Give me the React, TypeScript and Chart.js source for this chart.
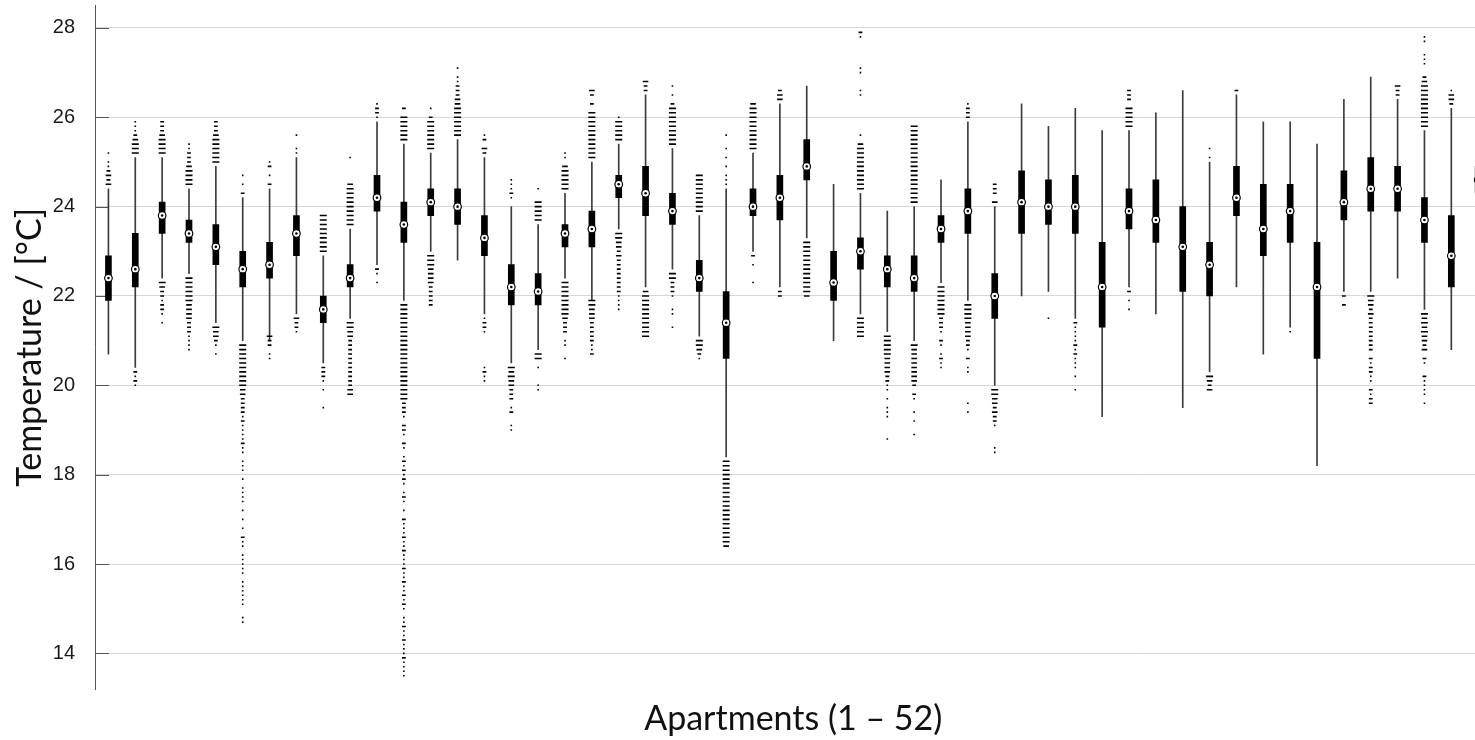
import { useEffect, useRef } from "react";
import { Chart, registerables } from "chart.js";

Chart.register(...registerables);

// Apartment numbers (categories)
const apartments = [
  1, 2, 3, 4, 5, 6, 7, 8, 9, 10, 11, 12, 13, 14, 15, 16, 17, 18, 19, 20, 21, 22, 23, 24, 25, 26,
  27, 28, 29, 30, 31, 32, 33, 34, 35, 36, 37, 38, 39, 40, 41, 42, 43, 44, 45, 46, 47, 48, 49, 50, 51, 52,
];

// Box-plot statistics (°C)
const whiskerLow = [
  20.7, 20.4, 22.4, 22.5, 21.4, 21.0, 21.0, 21.6, 20.5, 21.5, 22.7, 21.9, 23.0, 22.8, 21.6, 20.5, 20.8,
  22.4, 21.9, 23.5, 22.2, 22.6, 21.1, 18.4, 23.0, 22.2, 23.3, 21.0, 21.6, 21.2, 21.0, 22.3, 21.9, 20.0,
  22.0, 22.1, 21.5, 19.3, 22.2, 21.6, 19.5, 20.3, 22.2, 20.7, 21.3, 18.2, 22.1, 22.1, 22.4, 21.7, 20.8, 23.2,
];
const q1 = [
  21.9, 22.2, 23.4, 23.2, 22.7, 22.2, 22.4, 22.9, 21.4, 22.2, 23.9, 23.2, 23.8, 23.6, 22.9, 21.8, 21.8,
  23.1, 23.1, 24.2, 23.8, 23.6, 22.1, 20.6, 23.8, 23.7, 24.6, 21.9, 22.6, 22.2, 22.1, 23.2, 23.4, 21.5,
  23.4, 23.6, 23.4, 21.3, 23.5, 23.2, 22.1, 22.0, 23.8, 22.9, 23.2, 20.6, 23.7, 23.9, 23.9, 23.2, 22.2, 24.3,
];
const median = [
  22.4, 22.6, 23.8, 23.4, 23.1, 22.6, 22.7, 23.4, 21.7, 22.4, 24.2, 23.6, 24.1, 24.0, 23.3, 22.2, 22.1,
  23.4, 23.5, 24.5, 24.3, 23.9, 22.4, 21.4, 24.0, 24.2, 24.9, 22.3, 23.0, 22.6, 22.4, 23.5, 23.9, 22.0,
  24.1, 24.0, 24.0, 22.2, 23.9, 23.7, 23.1, 22.7, 24.2, 23.5, 23.9, 22.2, 24.1, 24.4, 24.4, 23.7, 22.9, 24.6,
];
const q3 = [
  22.9, 23.4, 24.1, 23.7, 23.6, 23.0, 23.2, 23.8, 22.0, 22.7, 24.7, 24.1, 24.4, 24.4, 23.8, 22.7, 22.5,
  23.6, 23.9, 24.7, 24.9, 24.3, 22.8, 22.1, 24.4, 24.7, 25.5, 23.0, 23.3, 22.9, 22.9, 23.8, 24.4, 22.5,
  24.8, 24.6, 24.7, 23.2, 24.4, 24.6, 24.0, 23.2, 24.9, 24.5, 24.5, 23.2, 24.8, 25.1, 24.9, 24.2, 23.8, 24.9,
];
const whiskerHigh = [
  24.4, 25.1, 25.1, 24.4, 24.9, 24.2, 24.4, 25.1, 22.9, 23.5, 25.9, 25.4, 25.2, 25.5, 25.1, 24.0, 23.6,
  24.3, 25.0, 25.4, 26.5, 25.3, 23.8, 24.4, 25.2, 26.3, 26.7, 24.5, 24.3, 23.9, 24.0, 24.6, 25.9, 24.0,
  26.3, 25.8, 26.2, 25.7, 25.7, 26.1, 26.6, 25.0, 26.5, 25.9, 25.9, 25.4, 26.4, 26.9, 26.4, 25.7, 26.2, 26.2,
];

// Outliers per apartment: [temperature, number of coincident readings]
const outliers: [number, number][][] = [
  [[24.5, 3], [24.6, 2], [24.7, 3], [24.8, 2], [24.9, 1], [25.0, 1], [25.2, 1]],
  [[25.2, 4], [25.3, 4], [25.4, 4], [25.5, 3], [25.6, 2], [25.7, 1], [25.8, 1], [25.9, 1], [20.3, 2], [20.2, 1], [20.1, 2], [20.0, 1]],
  [[25.2, 4], [25.3, 4], [25.4, 4], [25.5, 4], [25.6, 3], [25.7, 2], [25.8, 2], [25.9, 2], [22.3, 4], [22.2, 3], [22.1, 2], [22.0, 2], [21.9, 1], [21.8, 2], [21.7, 2], [21.6, 1], [21.4, 1]],
  [[24.5, 4], [24.6, 4], [24.7, 4], [24.8, 4], [24.9, 3], [25.0, 2], [25.1, 2], [25.2, 2], [25.3, 1], [25.4, 1], [22.4, 4], [22.3, 4], [22.2, 4], [22.1, 4], [22.0, 4], [21.9, 4], [21.8, 3], [21.7, 3], [21.6, 3], [21.5, 3], [21.4, 2], [21.3, 2], [21.2, 2], [21.1, 1], [21.0, 1], [20.9, 1], [20.8, 1]],
  [[25.0, 4], [25.1, 4], [25.2, 4], [25.3, 4], [25.4, 4], [25.5, 4], [25.6, 3], [25.7, 2], [25.8, 2], [25.9, 2], [21.3, 4], [21.2, 3], [21.1, 3], [21.0, 2], [20.9, 1], [20.7, 1]],
  [[24.3, 2], [24.5, 1], [24.7, 1], [20.9, 4], [20.8, 4], [20.7, 4], [20.6, 4], [20.5, 4], [20.4, 4], [20.3, 4], [20.2, 4], [20.1, 4], [20.0, 4], [19.9, 3], [19.8, 3], [19.7, 2], [19.6, 2], [19.5, 2], [19.4, 2], [19.3, 1], [19.2, 2], [19.1, 1], [19.0, 1], [18.9, 1], [18.8, 1], [18.7, 2], [18.6, 1], [18.5, 1], [18.3, 1], [18.2, 1], [18.1, 1], [17.9, 1], [17.7, 1], [17.6, 1], [17.5, 1], [17.4, 1], [17.2, 1], [17.0, 1], [16.8, 1], [16.6, 2], [16.5, 1], [16.4, 1], [16.2, 1], [16.1, 1], [16.0, 1], [15.9, 1], [15.8, 1], [15.6, 1], [15.5, 1], [15.4, 1], [15.3, 1], [15.2, 1], [15.1, 1], [14.8, 1], [14.7, 1]],
  [[24.5, 2], [24.7, 1], [24.9, 2], [25.0, 1], [21.1, 3], [21.0, 2], [20.9, 2], [20.7, 1], [20.6, 1]],
  [[25.2, 1], [25.3, 1], [25.6, 1], [21.5, 3], [21.4, 2], [21.3, 2], [21.2, 1]],
  [[23.0, 4], [23.1, 4], [23.2, 4], [23.3, 4], [23.4, 4], [23.5, 4], [23.6, 4], [23.7, 4], [23.8, 4], [20.4, 2], [20.3, 2], [20.2, 2], [20.1, 1], [19.9, 1], [19.5, 1]],
  [[23.6, 4], [23.7, 4], [23.8, 4], [23.9, 4], [24.0, 4], [24.1, 4], [24.2, 4], [24.3, 4], [24.4, 4], [24.5, 3], [25.1, 1], [21.4, 4], [21.3, 4], [21.2, 3], [21.1, 3], [21.0, 2], [20.9, 2], [20.8, 2], [20.7, 2], [20.6, 2], [20.5, 2], [20.4, 2], [20.3, 2], [20.2, 2], [20.1, 2], [20.0, 2], [19.9, 3], [19.8, 3]],
  [[26.0, 1], [26.1, 2], [26.2, 2], [26.3, 1], [22.6, 2], [22.5, 1], [22.3, 1]],
  [[25.5, 4], [25.6, 4], [25.7, 4], [25.8, 4], [25.9, 4], [26.0, 4], [26.2, 2], [21.8, 4], [21.7, 4], [21.6, 4], [21.5, 4], [21.4, 4], [21.3, 4], [21.2, 4], [21.1, 4], [21.0, 4], [20.9, 4], [20.8, 4], [20.7, 4], [20.6, 4], [20.5, 4], [20.4, 4], [20.3, 4], [20.2, 4], [20.1, 4], [20.0, 4], [19.9, 4], [19.8, 4], [19.7, 4], [19.6, 2], [19.5, 2], [19.4, 2], [19.3, 1], [19.1, 2], [19.0, 2], [18.9, 1], [18.7, 2], [18.6, 1], [18.4, 1], [18.3, 2], [18.2, 1], [18.1, 2], [18.0, 1], [17.9, 2], [17.8, 1], [17.6, 1], [17.5, 2], [17.4, 1], [17.2, 1], [17.0, 2], [16.9, 1], [16.8, 1], [16.7, 1], [16.6, 2], [16.5, 1], [16.4, 1], [16.3, 2], [16.2, 1], [16.1, 1], [16.0, 1], [15.9, 2], [15.8, 1], [15.7, 1], [15.6, 2], [15.5, 1], [15.4, 1], [15.3, 2], [15.2, 1], [15.1, 2], [15.0, 1], [14.8, 1], [14.7, 1], [14.6, 2], [14.5, 1], [14.4, 1], [14.3, 2], [14.2, 1], [14.1, 1], [14.0, 1], [13.9, 2], [13.8, 1], [13.7, 1], [13.6, 1], [13.5, 1]],
  [[25.3, 4], [25.4, 4], [25.5, 4], [25.6, 4], [25.7, 4], [25.8, 4], [25.9, 4], [26.0, 2], [26.2, 1], [22.9, 4], [22.8, 4], [22.7, 4], [22.6, 3], [22.5, 3], [22.4, 3], [22.3, 3], [22.2, 2], [22.1, 2], [22.0, 2], [21.9, 2], [21.8, 2]],
  [[25.6, 4], [25.7, 4], [25.8, 4], [25.9, 4], [26.0, 4], [26.1, 4], [26.2, 4], [26.3, 3], [26.4, 3], [26.5, 2], [26.6, 2], [26.7, 2], [26.8, 1], [26.9, 1], [27.1, 1]],
  [[25.2, 2], [25.3, 3], [25.5, 2], [25.6, 1], [21.5, 1], [21.4, 2], [21.3, 2], [21.2, 1], [20.4, 1], [20.3, 2], [20.2, 1], [20.1, 1]],
  [[24.2, 1], [24.3, 2], [24.4, 1], [24.5, 1], [24.6, 1], [20.4, 4], [20.3, 3], [20.2, 4], [20.1, 3], [20.0, 3], [19.9, 2], [19.8, 2], [19.7, 2], [19.5, 1], [19.4, 2], [19.1, 1], [19.0, 1]],
  [[23.7, 4], [23.8, 4], [23.9, 4], [24.0, 4], [24.1, 4], [24.4, 1], [20.7, 4], [20.6, 4], [20.4, 1], [20.0, 1], [19.9, 1]],
  [[24.4, 4], [24.5, 4], [24.6, 4], [24.7, 4], [24.8, 4], [24.9, 3], [25.1, 1], [25.2, 1], [22.3, 4], [22.2, 4], [22.1, 4], [22.0, 4], [21.9, 4], [21.8, 4], [21.7, 4], [21.6, 4], [21.5, 3], [21.4, 2], [21.3, 2], [21.2, 2], [21.0, 1], [20.9, 1], [20.6, 1]],
  [[25.1, 4], [25.2, 4], [25.3, 4], [25.4, 4], [25.5, 4], [25.6, 4], [25.7, 4], [25.8, 4], [25.9, 4], [26.0, 4], [26.1, 4], [26.3, 2], [26.5, 2], [26.6, 3], [21.9, 4], [21.8, 4], [21.7, 3], [21.6, 3], [21.5, 3], [21.4, 2], [21.3, 2], [21.2, 2], [21.1, 2], [21.0, 2], [20.9, 1], [20.8, 1], [20.7, 2]],
  [[25.5, 4], [25.6, 4], [25.7, 4], [25.8, 4], [25.9, 4], [26.0, 1], [23.4, 4], [23.3, 4], [23.2, 3], [23.1, 3], [23.0, 2], [22.9, 3], [22.8, 2], [22.7, 2], [22.6, 2], [22.5, 2], [22.4, 2], [22.3, 2], [22.2, 2], [22.1, 2], [22.0, 1], [21.9, 1], [21.8, 1], [21.7, 1]],
  [[26.6, 2], [26.7, 2], [26.8, 3], [22.1, 3], [22.0, 4], [21.9, 4], [21.8, 4], [21.7, 4], [21.6, 4], [21.5, 4], [21.4, 4], [21.3, 4], [21.2, 4], [21.1, 4]],
  [[25.4, 4], [25.5, 4], [25.6, 4], [25.7, 4], [25.8, 4], [25.9, 4], [26.0, 4], [26.1, 4], [26.2, 4], [26.3, 2], [26.5, 1], [26.7, 1], [22.5, 4], [22.4, 4], [22.3, 2], [22.2, 2], [22.1, 2], [22.0, 1], [21.7, 1], [21.6, 1], [21.3, 1]],
  [[23.9, 4], [24.0, 4], [24.1, 4], [24.2, 4], [24.3, 4], [24.4, 4], [24.5, 4], [24.6, 4], [24.7, 4], [21.0, 4], [20.9, 4], [20.8, 3], [20.7, 2], [20.6, 1]],
  [[24.5, 1], [24.6, 1], [24.7, 1], [24.9, 1], [25.1, 1], [25.3, 1], [25.6, 1], [18.3, 4], [18.2, 4], [18.1, 4], [18.0, 4], [17.9, 4], [17.8, 4], [17.7, 4], [17.6, 4], [17.5, 4], [17.4, 4], [17.3, 4], [17.2, 4], [17.1, 4], [17.0, 4], [16.9, 4], [16.8, 4], [16.7, 4], [16.6, 4], [16.5, 4], [16.4, 3]],
  [[25.3, 4], [25.4, 4], [25.5, 4], [25.6, 4], [25.7, 4], [25.8, 4], [25.9, 4], [26.0, 4], [26.1, 4], [26.2, 4], [26.3, 3], [22.9, 2], [22.7, 1], [22.3, 1]],
  [[26.4, 3], [26.5, 3], [26.6, 2], [22.1, 2], [22.0, 2]],
  [[23.2, 4], [23.1, 4], [23.0, 4], [22.9, 4], [22.8, 4], [22.7, 4], [22.6, 4], [22.5, 4], [22.4, 4], [22.3, 4], [22.2, 4], [22.1, 4], [22.0, 3]],
  [],
  [[24.4, 4], [24.5, 4], [24.6, 4], [24.7, 4], [24.8, 4], [24.9, 4], [25.0, 4], [25.1, 4], [25.2, 4], [25.3, 4], [25.4, 3], [25.6, 1], [26.5, 1], [26.6, 1], [27.0, 1], [27.1, 1], [27.8, 1], [27.9, 2], [21.5, 4], [21.4, 4], [21.3, 4], [21.2, 4], [21.1, 4]],
  [[21.1, 4], [21.0, 4], [20.9, 4], [20.8, 4], [20.7, 4], [20.6, 3], [20.5, 3], [20.4, 3], [20.3, 3], [20.2, 2], [20.1, 2], [20.0, 1], [19.9, 1], [19.7, 1], [19.5, 1], [19.4, 1], [19.3, 1], [18.8, 1]],
  [[24.1, 4], [24.2, 4], [24.3, 4], [24.4, 4], [24.5, 4], [24.6, 4], [24.7, 4], [24.8, 4], [24.9, 4], [25.0, 4], [25.1, 4], [25.2, 4], [25.3, 4], [25.4, 4], [25.5, 4], [25.6, 4], [25.7, 4], [25.8, 4], [20.9, 4], [20.8, 3], [20.7, 3], [20.6, 3], [20.5, 3], [20.4, 3], [20.3, 3], [20.2, 3], [20.1, 3], [20.0, 2], [19.8, 2], [19.7, 1], [19.4, 1], [19.2, 1], [18.9, 1]],
  [[22.2, 4], [22.1, 4], [22.0, 4], [21.9, 4], [21.8, 4], [21.7, 4], [21.6, 4], [21.5, 2], [21.4, 2], [21.3, 2], [21.2, 1], [21.0, 2], [20.9, 1], [20.7, 1], [20.6, 2], [20.5, 1], [20.4, 1]],
  [[26.0, 2], [26.1, 2], [26.2, 2], [26.3, 1], [21.8, 4], [21.7, 4], [21.6, 4], [21.5, 4], [21.4, 3], [21.3, 3], [21.2, 3], [21.1, 3], [21.0, 2], [20.9, 2], [20.8, 1], [20.6, 2], [20.4, 1], [20.3, 1], [19.6, 1], [19.4, 1]],
  [[24.1, 3], [24.3, 2], [24.4, 2], [24.5, 2], [19.9, 4], [19.8, 4], [19.7, 3], [19.6, 3], [19.5, 2], [19.4, 3], [19.3, 2], [19.2, 2], [19.1, 1], [18.6, 1], [18.5, 1]],
  [],
  [[21.5, 1]],
  [[21.4, 2], [21.3, 1], [21.2, 1], [21.1, 1], [21.0, 1], [20.9, 2], [20.8, 1], [20.7, 2], [20.6, 1], [20.5, 1], [20.4, 1], [20.2, 1], [19.9, 1]],
  [],
  [[25.8, 4], [25.9, 4], [26.0, 4], [26.1, 4], [26.2, 4], [26.4, 2], [26.5, 2], [26.6, 2], [22.1, 2], [21.9, 1], [21.7, 1]],
  [],
  [],
  [[25.1, 1], [25.3, 1], [20.2, 4], [20.1, 3], [20.0, 2], [19.9, 3]],
  [[26.6, 2]],
  [],
  [[21.2, 1]],
  [],
  [[22.0, 2], [21.8, 2]],
  [[22.0, 4], [21.9, 3], [21.8, 3], [21.7, 2], [21.6, 3], [21.5, 2], [21.4, 2], [21.3, 2], [21.2, 2], [21.1, 2], [21.0, 2], [20.9, 2], [20.8, 2], [20.6, 2], [20.5, 1], [20.4, 2], [20.3, 2], [20.2, 1], [20.1, 1], [19.9, 2], [19.8, 1], [19.7, 2], [19.6, 2]],
  [[26.5, 2], [26.6, 2], [26.7, 3]],
  [[25.8, 4], [25.9, 4], [26.0, 4], [26.1, 4], [26.2, 4], [26.3, 4], [26.4, 4], [26.5, 4], [26.6, 4], [26.7, 4], [26.8, 3], [26.9, 2], [27.2, 1], [27.3, 1], [27.4, 1], [27.7, 1], [27.8, 1], [21.6, 4], [21.5, 3], [21.4, 4], [21.3, 3], [21.2, 4], [21.1, 3], [21.0, 3], [20.9, 2], [20.8, 3], [20.6, 2], [20.5, 1], [20.2, 2], [20.1, 1], [20.0, 1], [19.9, 1], [19.8, 1], [19.6, 1]],
  [[26.3, 2], [26.4, 3], [26.5, 3], [26.6, 1]],
  [[26.3, 2], [26.4, 2], [26.5, 1]],
];

const yTicks = [14, 16, 18, 20, 22, 24, 26, 28];

const TITLE_FONT = "Lato, 'Open Sans', sans-serif";
const TICK_FONT = "'Liberation Sans', Arial, sans-serif";

const innerTicks = {
  id: "innerTicks",
  beforeDatasetsDraw(chart: any) {
    const y = chart.scales.y;
    const ctx = chart.ctx;
    ctx.save();
    ctx.strokeStyle = "#555555";
    ctx.lineWidth = 1;
    y.ticks.forEach((t: any) => {
      const py = Math.round(y.getPixelForValue(t.value)) + 0.5;
      ctx.beginPath();
      ctx.moveTo(y.right, py);
      ctx.lineTo(y.right + 14, py);
      ctx.stroke();
    });
    ctx.restore();
  },
};

export default function App() {
  const ref = useRef<HTMLCanvasElement | null>(null);

  useEffect(() => {
    if (!ref.current) return;

    const whiskerData = apartments.map((a, i) => ({ x: a, y: [whiskerLow[i], whiskerHigh[i]] }));
    const boxData = apartments.map((a, i) => ({ x: a, y: [q1[i], q3[i]] }));
    const medianData = apartments.map((a, i) => ({ x: a, y: median[i] }));
    const outlierData: { x: number; y: number; n: number }[] = [];
    apartments.forEach((a, i) => {
      outliers[i].forEach(([v, n]) => outlierData.push({ x: a, y: v, n }));
    });

    const dashRadius = [0, 0.8, 1.9, 2.8, 3.5];

    const chart = new Chart(ref.current, {
      type: "scatter",
      data: {
        datasets: [
          {
            type: "scatter",
            data: medianData as any,
            pointStyle: "circle",
            pointRadius: 1.3,
            pointBackgroundColor: "#000",
            pointBorderWidth: 0,
            order: 0,
          } as any,
          {
            type: "scatter",
            data: medianData as any,
            pointStyle: "circle",
            pointRadius: 3.8,
            pointBackgroundColor: "#ffffff",
            pointBorderColor: "#000000",
            pointBorderWidth: 1.2,
            order: 1,
          } as any,
          {
            type: "bar",
            data: boxData as any,
            backgroundColor: "#000000",
            barThickness: 6,
            grouped: false,
            order: 2,
          } as any,
          {
            type: "scatter",
            data: outlierData as any,
            pointStyle: "line",
            pointRadius: (c: any) => dashRadius[c.raw ? c.raw.n : 1],
            pointBorderColor: "#000000",
            pointBorderWidth: 1.6,
            order: 3,
          } as any,
          {
            type: "bar",
            data: whiskerData as any,
            backgroundColor: "#3c3c3c",
            barThickness: 1,
            grouped: false,
            order: 4,
          } as any,
        ],
      },
      options: {
        animation: false,
        responsive: false,
        devicePixelRatio: 1,
        events: [],
        layout: { padding: { top: 4, right: 8.4, left: 0, bottom: 0 } },
        plugins: { legend: { display: false }, tooltip: { enabled: false } },
        scales: {
          x: {
            type: "linear",
            min: 0.5,
            max: 52.5,
            offset: false,
            grid: { display: false, offset: false },
            border: { display: false },
            ticks: { display: false },
            title: {
              display: true,
              text: "Apartments (1 – 52)",
              color: "#111111",
              font: { family: TITLE_FONT, size: 34 },
              padding: { top: 0, bottom: 1 },
            },
            afterFit: (s: any) => {
              s.height = 50.9;
            },
          },
          y: {
            type: "linear",
            min: 13.2,
            max: 28.5,
            beginAtZero: false,
            afterBuildTicks: (s: any) => {
              s.ticks = yTicks.map((v) => ({ value: v }));
            },
            grid: { color: "#d6d6d6", lineWidth: 1, drawTicks: false },
            border: { display: true, color: "#555555", width: 1 },
            ticks: {
              color: "#1a1a1a",
              font: { family: TICK_FONT, size: 20 },
              padding: 20,
            },
            title: {
              display: true,
              text: "Temperature / [°C]",
              color: "#111111",
              font: { family: TITLE_FONT, size: 34 },
              padding: { top: 10, bottom: 0 },
            },
            afterFit: (s: any) => {
              s.width = 95;
              s.paddingTop = 0;
              s.paddingBottom = 0;
            },
          },
        },
      },
      plugins: [innerTicks],
    });

    return () => chart.destroy();
  }, []);

  return (
    <div style={{ position: "absolute", left: 0, top: 0, width: 1475, height: 740, overflow: "hidden", background: "#fff" }}>
      <canvas ref={ref} width={1500} height={740} style={{ width: 1500, height: 740, display: "block" }} />
    </div>
  );
}
